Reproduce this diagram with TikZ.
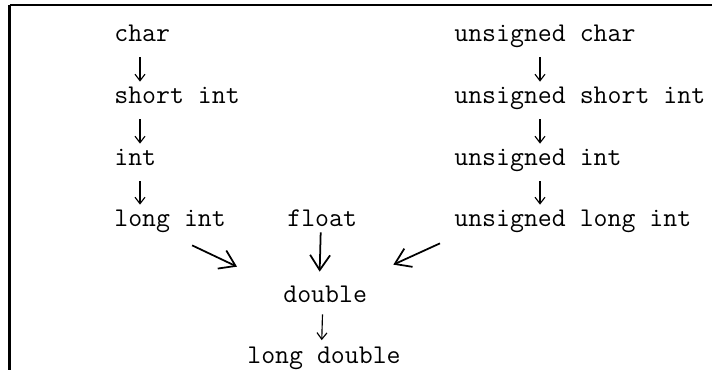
\documentclass[tikz,border=0pt]{standalone}
\usepackage{fontspec}
\usetikzlibrary{arrows.meta}

\begin{document}
\begin{tikzpicture}[
    ctype/.style={anchor=base west, inner sep=0pt, text height=0.28cm, text depth=0.1cm,
      font=\ttfamily\fontsize{15.4}{18}\selectfont},
    conv/.style={line width=0.65pt, -{Straight Barb[length=0.13cm,width=0.2cm]},
      shorten <=0.2cm, shorten >=0.16cm},
    promote/.style={line width=1pt, -{Straight Barb[length=0.3cm,width=0.4cm]}}
  ]
        \useasboundingbox (0,0) rectangle (14.24,-7.4);

        % frame
        \draw[line width=0.85pt] (0.19,-0.1) -- (14.3,-0.1);
        \draw[line width=1.2pt] (0.19,-0.1) -- (0.19,-7.45);

        \node[ctype] (char) at (2.28,-0.84) {char};
        \node[ctype] (short) at (2.28,-2.08) {short int};
        \node[ctype] (int) at (2.28,-3.32) {int};
        \node[ctype] (long) at (2.28,-4.54) {long int};

        \node[ctype] (uchar) at (9.08,-0.84) {unsigned char};
        \node[ctype] (ushort) at (9.08,-2.08) {unsigned short int};
        \node[ctype] (uint) at (9.08,-3.32) {unsigned int};
        \node[ctype] (ulong) at (9.08,-4.54) {unsigned long int};

        \node[ctype] (float) at (5.74,-4.54) {float};
        \node[ctype] (double) at (5.66,-6.06) {double};
        \node[ctype] (ldouble) at (4.94,-7.26) {long double};

        % signed chain
        \draw[conv] ([xshift=0.52cm]char.south west) -- ([xshift=0.52cm]short.north west);
        \draw[conv] ([xshift=0.52cm]short.south west) -- ([xshift=0.52cm]int.north west);
        \draw[conv] ([xshift=0.52cm]int.south west) -- ([xshift=0.52cm]long.north west);

        % unsigned chain
        \draw[conv] ([xshift=1.72cm]uchar.south west) -- ([xshift=1.72cm]ushort.north west);
        \draw[conv] ([xshift=1.72cm]ushort.south west) -- ([xshift=1.72cm]uint.north west);
        \draw[conv] ([xshift=1.72cm]uint.south west) -- ([xshift=1.72cm]ulong.north west);

        % into double
        \draw[promote] ([xshift=0.44cm,yshift=-0.26cm]long.south) -- ([xshift=-0.92cm,yshift=0.44cm]double.north west);
        \draw[promote] ([xshift=-0.03cm]float.south) -- ([xshift=-0.11cm,yshift=0.34cm]double.north);
        \draw[promote] ([xshift=-0.28cm,yshift=-0.22cm]ulong.south west) -- ([xshift=0.52cm,yshift=0.48cm]double.north east);

        \draw[conv, shorten <=0.12cm, shorten >=0.17cm] ([xshift=-0.05cm]double.south) -- ([xshift=-0.05cm]ldouble.north);
      \end{tikzpicture}
\end{document}
